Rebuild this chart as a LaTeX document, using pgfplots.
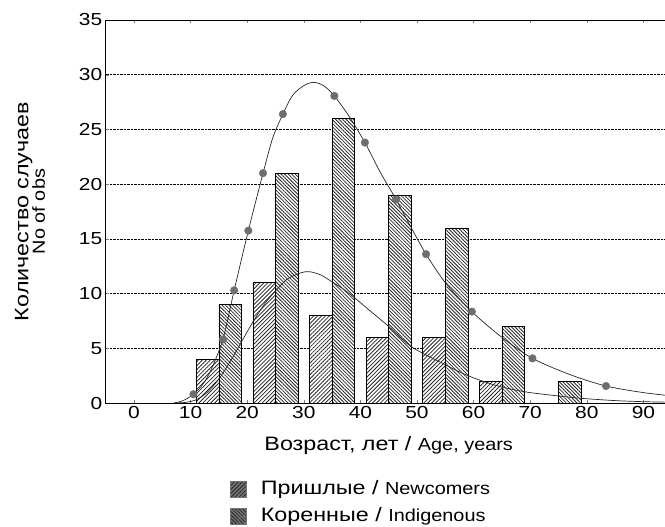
\documentclass[border=0pt]{standalone}
\usepackage{pgfplots}
\pgfplotsset{compat=1.18}
\usetikzlibrary{patterns.meta}
\usepackage{fontspec}
\setmainfont{Liberation Sans}
\newfontfamily\cyrfam[FakeStretch=1.2]{Liberation Sans}
\newfontfamily\engfam[FakeStretch=1.14]{Liberation Sans}
\newfontfamily\tickfam[FakeStretch=1.2]{Liberation Sans}
\definecolor{markgray}{RGB}{110,110,110}
\tikzset{
  nehatch/.style={pattern={Lines[angle=45,distance=2.8pt,line width=0.8pt]}, pattern color=black!85},
  nwhatch/.style={pattern={Lines[angle=-45,distance=2.5pt,line width=0.8pt]}, pattern color=black!85},
  nehatchL/.style={pattern={Lines[angle=45,distance=3pt,line width=0.6pt]}, pattern color=black!70},
  nwhatchL/.style={pattern={Lines[angle=-45,distance=3pt,line width=0.6pt]}, pattern color=black!70},
}
\newcommand{\cyr}{\cyrfam\fontsize{19.5}{22}\selectfont}
\newcommand{\eng}{\engfam\fontsize{17.5}{20}\selectfont}
\newcommand{\tickf}{\tickfam\fontsize{17.5}{20}\selectfont}
\begin{document}
\begin{tikzpicture}
\begin{axis}[
  scale only axis,
  width=566bp, height=383bp,
  xmin=-5, xmax=95, ymin=0, ymax=35,
  xtick={0,10,...,90}, ytick={0,5,...,35},
  /pgf/number format/assume math mode=true,
  tick label style={font=\tickf},
  tick align=inside, major tick length=3bp,
  axis line style={line width=0.8pt},
  ymajorgrids, major grid style={densely dotted, black, line width=0.5pt},
  xlabel={{\cyr Возраст, лет / }{\eng Age, years}},
  xlabel style={at={(axis description cs:0.5,-0.1097)}, anchor=center},
  ylabel={\cyr Количество случаев\\[-1bp] \eng No of obs},
  ylabel style={at={(axis description cs:-0.1337,0.5)}, anchor=center, align=center},
  legend style={at={(axis description cs:0.2196,-0.2013)}, anchor=north west, draw=none, fill=none,
    row sep=9bp, inner sep=0pt, nodes={inner sep=0pt, text height=14bp, text depth=4bp}},
  legend cell align=left,
]
\addplot[ybar, bar width=4, bar shift=0pt, draw=black, line width=0.7pt, fill=white,
  postaction={nehatch},
  legend image code/.code={\fill[white] (0bp,-8bp) rectangle (16bp,8bp);
     \fill[nehatchL] (0bp,-8bp) rectangle (16bp,8bp);
     \draw[black!55, line width=0.5pt] (0bp,-8bp) rectangle (16bp,8bp);
     \path (30bp,0bp);}]
  coordinates {(13,4) (23,11) (33,8) (43,6) (53,6) (63,2)};
\addlegendentry{{\cyr Пришлые / }{\eng Newcomers}}
\addplot[ybar, bar width=4, bar shift=0pt, draw=black, line width=0.7pt, fill=white,
  postaction={nwhatch},
  legend image code/.code={\fill[white] (0bp,-8bp) rectangle (16bp,8bp);
     \fill[nwhatchL] (0bp,-8bp) rectangle (16bp,8bp);
     \draw[black!55, line width=0.5pt] (0bp,-8bp) rectangle (16bp,8bp);
     \fill[markgray] (12bp,-4bp) circle (4bp);
     \path (30bp,0bp);}]
  coordinates {(17,9) (27,21) (37,26) (47,19) (57,16) (67,7) (77,2)};
\addlegendentry{{\cyr Коренные / }{\eng Indigenous}}
\addplot[forget plot, smooth, black!85, line width=0.7pt] coordinates {
 (7,0) (9,0.05) (11,0.3) (13,1.0) (15,2.2) (17,3.8) (19,5.6) (21,7.4) (23,9.0) (24.6,10.0)
 (27,11.3) (29.5,11.9) (31,12.0) (33,11.7) (34.6,11.2) (37,10.4) (39,9.6) (42,8.3) (45,7.0)
 (49,5.15) (54.6,3.6) (59,2.5) (64,1.6) (69,1.03) (74,0.7) (79,0.43) (85,0.22) (90,0.12) (95,0.07)};
\addplot[forget plot, smooth, black!85, line width=0.7pt] coordinates {
 (7,0) (8,0.1) (9,0.3) (10.5,0.8) (12,1.6) (13.5,2.9) (15.7,5.8) (17.7,10.3) (20.2,15.75)
 (22.8,21) (24.5,24.2) (26.3,26.4) (28,28.1) (30,29.0) (31.7,29.3) (33.5,29.0) (35.4,28.06)
 (38,26.2) (40.8,23.8) (43.5,21.1) (46.3,18.6) (49,16) (51.6,13.6) (55,11.0) (59.7,8.35)
 (65,6.0) (70.4,4.08) (77,2.6) (83.4,1.55) (90,0.95) (95,0.65)};
\addplot[forget plot, only marks, mark=*, mark size=3.8bp, markgray, mark options={draw=markgray, fill=markgray}] coordinates {
 (10.5,0.8) (15.7,5.8) (17.7,10.3) (20.2,15.75) (22.8,21.0) (26.3,26.4) (35.4,28.06)
 (40.8,23.8) (46.3,18.6) (51.6,13.6) (59.7,8.35) (70.4,4.08) (83.4,1.55)};
\end{axis}
\pgfresetboundingbox
\useasboundingbox (-105.7bp,-124bp) rectangle (559.3bp,403bp);
\end{tikzpicture}
\end{document}
